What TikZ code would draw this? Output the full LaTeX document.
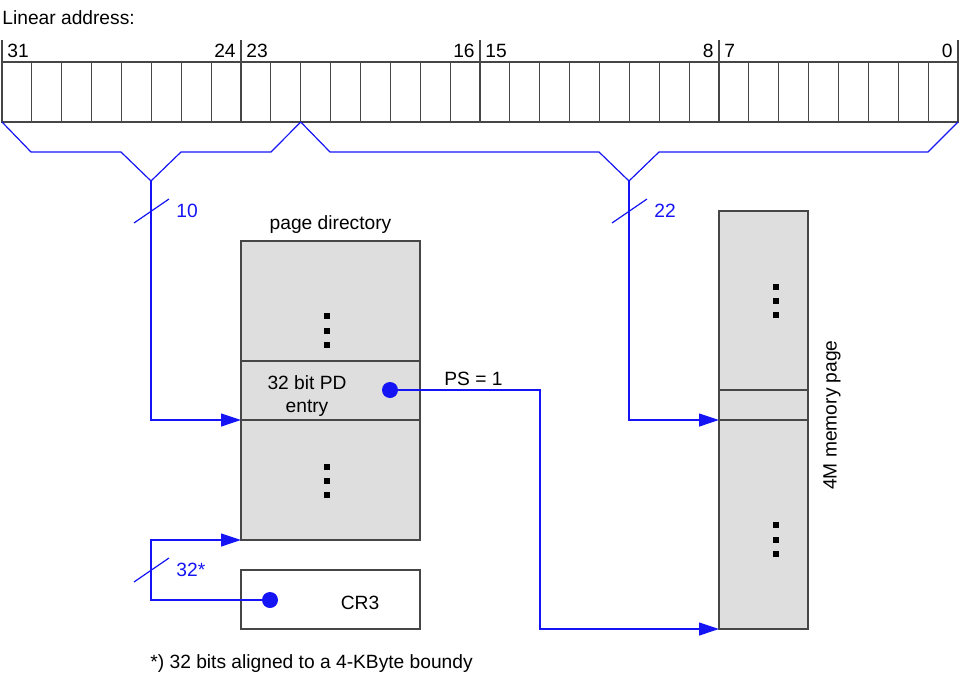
\documentclass[tikz,border=0pt]{standalone}
\usepackage{fontspec}
\setmainfont{Liberation Sans}
\usetikzlibrary{arrows.meta,positioning}
\definecolor{boxgray}{RGB}{222,222,222}
\definecolor{linegray}{RGB}{70,70,70}
\definecolor{wireblue}{RGB}{20,20,245}
\tikzstyle{wire} = [draw=wireblue,line width=0.6pt]
\tikzstyle{bitcell} = [draw=linegray,line width=0.6pt,minimum width=14.94pt,minimum height=30pt,inner sep=0pt,outer sep=0pt,anchor=north west]
\tikzstyle{membox} = [draw=linegray,fill=boxgray,line width=0.6pt,inner sep=0pt,outer sep=0pt]
\tikzstyle{bitnum} = [inner sep=2.5pt]

\begin{document}
\begin{tikzpicture}[x=0.5pt,y=-0.5pt,>={Triangle[length=10pt,width=6.5pt]},
    every node/.style={font=\fontsize{9.6}{11.5}\selectfont}]
    \useasboundingbox (0,0) rectangle (960,686);
    % linear address
    \node (title)[anchor=west,inner sep=0pt] at (2,18) {Linear address:};
    \foreach \k in {0,...,31}
        \node[bitcell] (b\k) at ({2+(31-\k)*29.875},62) {};
    \draw[linegray,line width=0.6pt] (b31.north west) -- ++(0,-22);
    \foreach \k in {24,16,8,0}
        \draw[linegray,line width=0.6pt] (b\k.north east) -- ++(0,-22);
    \node (n31)[bitnum,anchor=west] at (b31.north west |- 0,51) {31};
    \node (n24)[bitnum,anchor=east] at (b24.north east |- 0,51) {24};
    \node (n23)[bitnum,anchor=west] at (b23.north west |- 0,51) {23};
    \node (n16)[bitnum,anchor=east] at (b16.north east |- 0,51) {16};
    \node (n15)[bitnum,anchor=west] at (b15.north west |- 0,51) {15};
    \node (n8)[bitnum,anchor=east] at (b8.north east |- 0,51) {8};
    \node (n7)[bitnum,anchor=west] at (b7.north west |- 0,51) {7};
    \node (n0)[bitnum,anchor=east] at (b0.north east |- 0,51) {0};
    % braces
    \coordinate (tipL) at (151,181);
    \coordinate (tipR) at (629,181);
    \draw[wire] (b31.south west) -- (31,152) -- (121,152) -- (tipL) -- (181,152) -- (271,152) -- (b22.south east);
    \draw[wire] (b22.south east) -- (330,152) -- (599,152) -- (tipR) -- (659,152) -- (928,152) -- (b0.south east);
    % page directory
    \node (pdtop)[membox,minimum width=89.5pt,minimum height=60pt,anchor=north west] at (241,241) {};
    \node (pdentry)[membox,minimum width=89.5pt,minimum height=29.5pt,below=0pt of pdtop] {};
    \node (pdbot)[membox,minimum width=89.5pt,minimum height=60pt,below=0pt of pdentry] {};
    \node (pdlabel)[above=0pt of pdtop] {page directory};
    \node (pdtext)[align=center] at (307,396) {32 bit PD\\entry};
    \node (pddot)[circle,fill=wireblue,minimum size=8pt,inner sep=0pt] at (390,390) {};
    \node (cr3)[draw=linegray,line width=0.6pt,minimum width=89.5pt,minimum height=29.5pt,inner sep=0pt,outer sep=0pt,below=15pt of pdbot] {};
    \node (cr3text) at (360,603) {CR3};
    \node (crdot)[circle,fill=wireblue,minimum size=8pt,inner sep=0pt] at (270,600) {};
    % 4M page
    \node (mtop)[membox,minimum width=44.5pt,minimum height=89.5pt,anchor=north west] at (719,211) {};
    \node (mentry)[membox,minimum width=44.5pt,minimum height=15pt,below=0pt of mtop] {};
    \node (mbot)[membox,minimum width=44.5pt,minimum height=104.5pt,below=0pt of mentry] {};
    \node (mlabel)[rotate=90] at (832,415) {4M memory page};
    % dots
    \foreach \x/\y in {327/316,327/331,327/345,327/467,327/481,327/495,776/287,776/301,776/315,776/525,776/540,776/554}
        \fill (\x-2.6,\y-2.6) rectangle (\x+2.6,\y+2.6);
    % connect
    \coordinate (psbend) at (540,390);
    \coordinate (crbend) at (151,600);
    \draw[wire,->] (tipL) |- (pdentry.south west);
    \draw[wire,->] (tipR) |- (mentry.south west);
    \draw[wire,->] (pddot) -- (psbend) |- (mbot.south west);
    \draw[wire,->] (crdot) -- (crbend) |- (pdbot.south west);
    \node (ps)[anchor=west,inner sep=0pt] at (444,379) {PS = 1};
    % bus widths
    \draw[wire] (134,223) -- (169,199);
    \draw[wire] (612,223) -- (647,199);
    \draw[wire] (134,582) -- (169,558);
    \node (w10)[text=wireblue,anchor=west,inner sep=0pt] at (176,211) {10};
    \node (w22)[text=wireblue,anchor=west,inner sep=0pt] at (654,211) {22};
    \node (w32)[text=wireblue,anchor=west,inner sep=0pt] at (176,570) {32*};
    \node (note)[anchor=west,inner sep=0pt] at (150,664) {*) 32 bits aligned to a 4-KByte boundy};
\end{tikzpicture}
\end{document}
